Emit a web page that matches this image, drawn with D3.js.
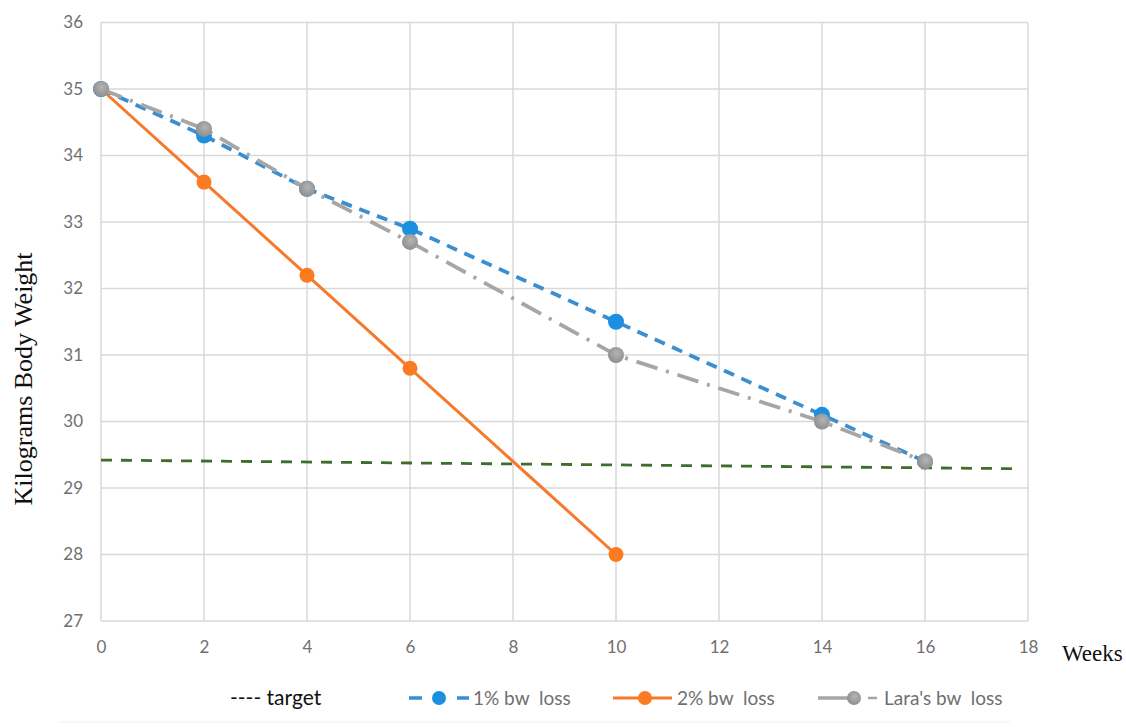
<!DOCTYPE html>
<html><head><meta charset="utf-8">
<script src="https://cdn.jsdelivr.net/npm/d3@7"></script>
<style>body{margin:0;background:#fff}svg{display:block}</style>
</head><body>
<svg id="c" width="1126" height="727"></svg>
<script>
const weeks1 = [0, 2, 4, 6, 10, 14, 16];
const loss1 = [35, 34.3, 33.5, 32.9, 31.5, 30.1, 29.4];
const weeks2 = [0, 2, 4, 6, 10];
const loss2 = [35, 33.6, 32.2, 30.8, 28.0];
const weeksLara = [0, 2, 4, 6, 10, 14, 16];
const lossLara = [35, 34.4, 33.5, 32.7, 31.0, 30.0, 29.4];
const targetWeeks = [0, 17.8];
const targetVals = [29.42, 29.29];
const xTicks = [0, 2, 4, 6, 8, 10, 12, 14, 16, 18];
const yTicks = [27, 28, 29, 30, 31, 32, 33, 34, 35, 36];

const svg = d3.select('#c');
const x = d3.scaleLinear().domain([0, 18]).range([101, 1028]);
const y = d3.scaleLinear().domain([27, 36]).range([621, 22.5]);
const tickFont = 'Lato, Open Sans, sans-serif';
const tickCol = '#707070';

// faint outer frame
svg.append('line').attr('x1', 60).attr('x2', 1010).attr('y1', 722).attr('y2', 722)
  .attr('stroke', '#f0f0f0').attr('stroke-width', 1);

// grid
const grid = svg.append('g');
grid.selectAll('.vg').data(xTicks).join('line')
  .attr('x1', d => x(d)).attr('x2', d => x(d)).attr('y1', y(36)).attr('y2', y(27))
  .attr('stroke', '#d9d9d9').attr('stroke-width', 1.5);
grid.selectAll('.hg').data(yTicks).join('line')
  .attr('x1', x(0)).attr('x2', x(18)).attr('y1', d => y(d)).attr('y2', d => y(d))
  .attr('stroke', '#d9d9d9').attr('stroke-width', 1.5);

// axes (labels only)
const xAxis = d3.axisBottom(x).tickValues(xTicks).tickSize(0).tickPadding(20);
const gx = svg.append('g').attr('transform', `translate(0,${y(27)})`).call(xAxis);
gx.select('.domain').remove();
gx.selectAll('text').attr('font-family', tickFont).attr('font-size', 17).attr('fill', tickCol);
const yAxis = d3.axisLeft(y).tickValues(yTicks).tickSize(0).tickPadding(18);
const gy = svg.append('g').attr('transform', `translate(${x(0)},0)`).call(yAxis);
gy.select('.domain').remove();
gy.selectAll('text').attr('font-family', tickFont).attr('font-size', 17).attr('fill', tickCol);

// axis titles
svg.append('text').attr('transform', `translate(32,${y(30.64)}) rotate(-90)`)
  .attr('text-anchor', 'middle').attr('font-family', 'Liberation Serif, Times New Roman, serif')
  .attr('font-size', 26).attr('fill', '#111').text('Kilograms Body Weight');
svg.append('text').attr('x', 1062).attr('y', 661)
  .attr('font-family', 'Liberation Serif, Times New Roman, serif')
  .attr('font-size', 23).attr('fill', '#111').text('Weeks');

const line = d3.line().x(d => x(d[0])).y(d => y(d[1]));
const zip = (a, b) => a.map((v, i) => [v, b[i]]);

const defs = svg.append('defs');
defs.append('filter').attr('id', 'soft').append('feGaussianBlur').attr('stdDeviation', 0.7);
const rg = defs.append('radialGradient').attr('id', 'gball').attr('cx', '55%').attr('cy', '40%').attr('r', '60%');
rg.append('stop').attr('offset', '0%').attr('stop-color', '#b4b4b4');
rg.append('stop').attr('offset', '100%').attr('stop-color', '#8e8e8e');

// target
svg.append('path').datum(zip(targetWeeks, targetVals)).attr('d', line)
  .attr('fill', 'none').attr('stroke', '#3f6e2c').attr('stroke-width', 2.8)
  .attr('stroke-dasharray', '11,9');

// 2% line
const o = zip(weeks2, loss2);
svg.append('path').datum(o).attr('d', line).attr('fill', 'none')
  .attr('stroke', '#f7792a').attr('stroke-width', 3);
svg.selectAll('.od').data(o).join('circle').attr('cx', d => x(d[0])).attr('cy', d => y(d[1]))
  .attr('r', 7.5).attr('fill', '#fb7a22');

// 1% line
const b = zip(weeks1, loss1);
svg.append('path').datum(b).attr('d', line).attr('fill', 'none')
  .attr('stroke', '#3a8fd0').attr('stroke-width', 3.8).attr('stroke-dasharray', '11,8')
  .attr('filter', 'url(#soft)');
svg.selectAll('.bd').data(b).join('circle').attr('cx', d => x(d[0])).attr('cy', d => y(d[1]))
  .attr('r', 8).attr('fill', '#1d8fe1');

// Lara's line
const g = zip(weeksLara, lossLara);
svg.append('path').datum(g).attr('d', line).attr('fill', 'none')
  .attr('stroke', '#a6a6a6').attr('stroke-width', 3.8).attr('stroke-dasharray', '22,9,3,9')
  .attr('filter', 'url(#soft)');
svg.selectAll('.gd').data(g).join('circle').attr('cx', d => x(d[0])).attr('cy', d => y(d[1]))
  .attr('r', 8).attr('fill', 'url(#gball)');

// legend
const ly = 698;
const lg = svg.append('g').attr('font-family', tickFont);
lg.append('text').attr('x', 230).attr('y', ly + 7).attr('font-size', 21).attr('fill', '#111').text('---- target');

lg.append('line').attr('x1', 409).attr('x2', 469).attr('y1', ly).attr('y2', ly)
  .attr('stroke', '#3a8fd0').attr('stroke-width', 3.5).attr('stroke-dasharray', '13,48');
lg.append('line').attr('x1', 457).attr('x2', 469).attr('y1', ly).attr('y2', ly)
  .attr('stroke', '#3a8fd0').attr('stroke-width', 3.5);
lg.append('circle').attr('cx', 439).attr('cy', ly).attr('r', 7).attr('fill', '#1d8fe1');
lg.append('text').attr('x', 473).attr('y', ly + 7).attr('font-size', 19).attr('fill', tickCol).text('1% bw\u00a0 loss');

lg.append('line').attr('x1', 613).attr('x2', 672).attr('y1', ly).attr('y2', ly)
  .attr('stroke', '#f7792a').attr('stroke-width', 3);
lg.append('circle').attr('cx', 645).attr('cy', ly).attr('r', 7).attr('fill', '#fb7a22');
lg.append('text').attr('x', 677).attr('y', ly + 7).attr('font-size', 19).attr('fill', tickCol).text('2% bw\u00a0 loss');

lg.append('line').attr('x1', 818).attr('x2', 852).attr('y1', ly).attr('y2', ly)
  .attr('stroke', '#a6a6a6').attr('stroke-width', 3.5);
lg.append('line').attr('x1', 868).attr('x2', 877).attr('y1', ly).attr('y2', ly)
  .attr('stroke', '#a6a6a6').attr('stroke-width', 2.5);
lg.append('circle').attr('cx', 854).attr('cy', ly).attr('r', 7).attr('fill', 'url(#gball)');
lg.append('text').attr('x', 884).attr('y', ly + 7).attr('font-size', 19).attr('fill', tickCol).text("Lara's bw\u00a0 loss");
</script>
</body></html>
